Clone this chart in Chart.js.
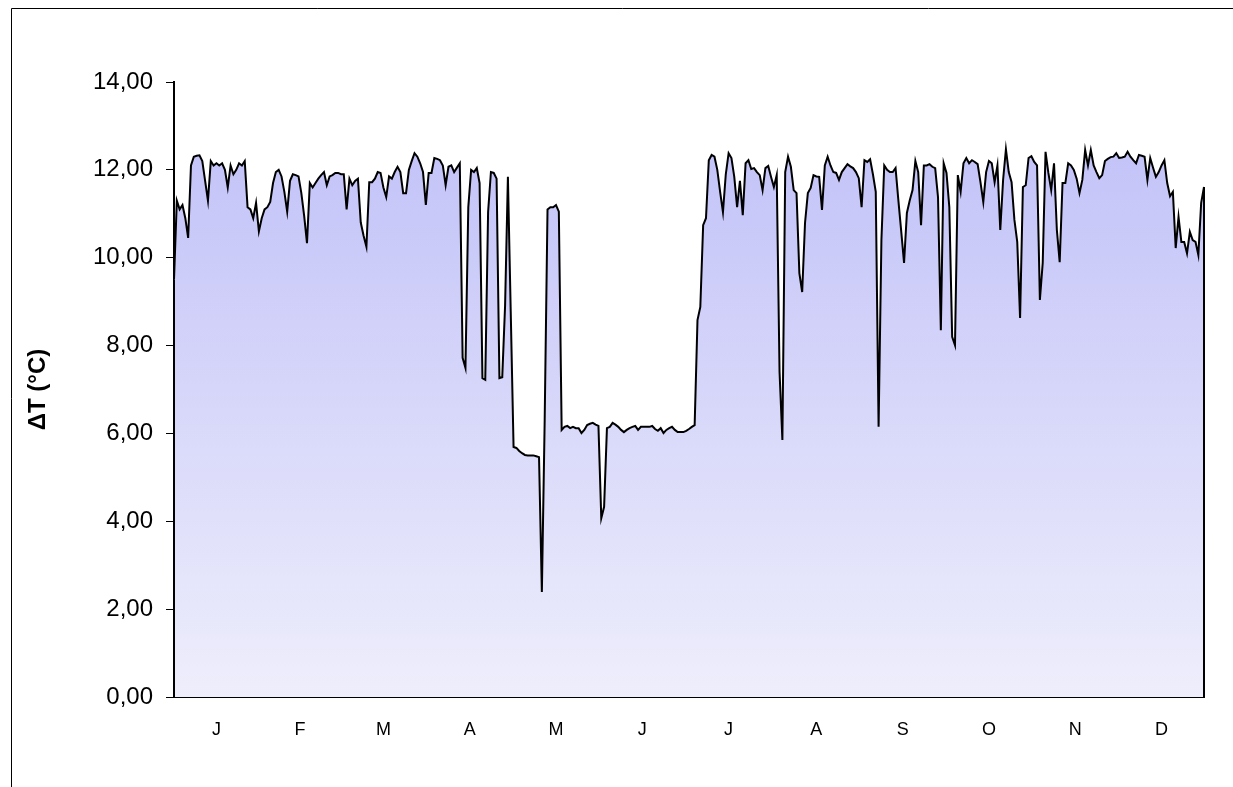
<!DOCTYPE html>
<html>
<head>
<meta charset="utf-8">
<script src="https://cdn.jsdelivr.net/npm/chart.js@4.4.1/dist/chart.umd.min.js"></script>
<style>
  html, body { margin: 0; padding: 0; background: #ffffff; overflow: hidden; }
  #wrap { width: 1233px; height: 787px; position: relative; }
</style>
</head>
<body>
<div id="wrap"><canvas id="c" width="1233" height="787"></canvas></div>
<script>
// Daily temperature difference ΔT (°C), one array per month
const jan = [9.5, 11.3, 11.1, 11.2, 10.9, 10.45, 12.1, 12.3, 12.32, 12.33, 12.2, 11.75, 11.3, 12.2, 12.1, 12.15,
             12.1, 12.15, 12.0, 11.6, 12.1, 11.9, 12.0, 12.15, 12.1, 12.2, 11.15, 11.1, 10.9, 11.25, 10.6];
const feb = [10.9, 11.1, 11.15, 11.27, 11.7, 11.95, 12.0, 11.85, 11.5, 11.05, 11.75, 11.9, 11.88, 11.85,
             11.47, 10.95, 10.33, 11.7, 11.6, 11.7, 11.8, 11.88, 11.95, 11.65, 11.85, 11.88, 11.93, 11.93];
const mar = [11.9, 11.9, 11.1, 11.8, 11.65, 11.75, 11.8, 10.8, 10.5, 10.25, 11.72, 11.72, 11.8, 11.95, 11.93,
             11.6, 11.38, 11.85, 11.8, 11.95, 12.07, 11.95, 11.47, 11.47, 12.0, 12.2, 12.38, 12.3, 12.15, 11.95, 11.2];
const apr = [11.93, 11.93, 12.27, 12.25, 12.22, 12.1, 11.65, 12.07, 12.1, 11.95, 12.05, 12.15, 7.72, 7.49, 11.15,
             12.0, 11.95, 12.04, 11.7, 7.26, 7.22, 11.04, 11.95, 11.93, 11.8, 7.26, 7.28, 8.9, 11.84, 8.77];
const may = [5.69, 5.67, 5.6, 5.55, 5.51, 5.5, 5.5, 5.5, 5.48, 5.46, 2.39, 6.3, 11.1, 11.15, 11.15, 11.2,
             11.05, 6.08, 6.15, 6.17, 6.12, 6.15, 6.12, 6.12, 6.01, 6.08, 6.19, 6.22, 6.24, 6.2, 6.17];
const jun = [4.07, 4.33, 6.12, 6.15, 6.24, 6.2, 6.15, 6.08, 6.03, 6.08, 6.12, 6.15, 6.17, 6.08, 6.15,
             6.15, 6.15, 6.15, 6.17, 6.1, 6.06, 6.12, 6.01, 6.08, 6.12, 6.15, 6.08, 6.03, 6.03, 6.03];
const jul = [6.06, 6.1, 6.15, 6.19, 8.58, 8.88, 10.74, 10.9, 12.22, 12.34, 12.3, 12.0, 11.5, 11.04, 11.9,
             12.38, 12.27, 11.84, 11.15, 11.75, 10.97, 12.15, 12.22, 12.02, 12.04, 11.95, 11.88, 11.54, 12.04, 12.09, 11.84];
const aug = [11.61, 11.88, 7.4, 5.85, 11.95, 12.3, 12.07, 11.54, 11.47, 9.65, 9.22, 10.79, 11.47, 11.59, 11.88,
             11.85, 11.84, 11.09, 12.1, 12.3, 12.1, 11.95, 11.93, 11.77, 11.95, 12.04, 12.13, 12.08, 12.04, 11.95, 11.81];
const sep = [11.15, 12.22, 12.18, 12.24, 11.9, 11.5, 6.15, 10.4, 12.1, 12.0, 11.95, 11.95, 12.04, 11.3, 10.6,
             9.88, 11.02, 11.3, 11.54, 12.2, 11.95, 10.74, 12.1, 12.1, 12.13, 12.07, 12.04, 11.38, 8.35, 12.15];
const oct = [11.93, 11.15, 8.2, 8.01, 11.88, 11.5, 12.15, 12.27, 12.15, 12.22, 12.18, 12.13, 11.72, 11.27, 11.95,
             12.2, 12.15, 11.72, 12.1, 10.63, 11.77, 12.47, 11.95, 11.72, 10.86, 10.36, 8.63, 11.61, 11.65, 12.27, 12.31];
const nov = [12.18, 12.1, 9.04, 9.88, 12.41, 11.93, 11.54, 12.15, 10.63, 9.9, 11.7, 11.7, 12.15, 12.1, 12.0,
             11.8, 11.47, 11.77, 12.45, 12.1, 12.45, 12.1, 11.95, 11.81, 11.88, 12.2, 12.25, 12.29, 12.3, 12.38];
const dec = [12.27, 12.28, 12.3, 12.41, 12.3, 12.22, 12.15, 12.34, 12.32, 12.3, 11.77, 12.27, 12.05, 11.84, 11.95,
             12.1, 12.22, 11.7, 11.4, 11.5, 10.22, 10.93, 10.36, 10.36, 10.1, 10.59, 10.4, 10.36, 10.06, 11.25, 11.61];

const monthLetters = ['J', 'F', 'M', 'A', 'M', 'J', 'J', 'A', 'S', 'O', 'N', 'D'];
const yTickValues = [0, 2, 4, 6, 8, 10, 12, 14];
const yTitle = 'ΔT (°C)';

const months = [jan, feb, mar, apr, may, jun, jul, aug, sep, oct, nov, dec];
const values = [].concat(...months);
const points = values.map((v, i) => ({ x: i, y: v }));

// Month labels sit in the middle of each month's run of days
const monthMid = [];
let dayStart = 0;
months.forEach(m => { monthMid.push(dayStart + (m.length - 1) / 2); dayStart += m.length; });

const FONT = 'Arial, "Liberation Sans", Helvetica, sans-serif';

// Outer chart border (left and top edges only are visible)
const frame = {
  id: 'frame',
  beforeDraw(chart) {
    const ctx = chart.ctx;
    ctx.save();
    ctx.strokeStyle = '#000';
    ctx.lineWidth = 1;
    ctx.beginPath();
    ctx.moveTo(11.5, chart.height + 2);
    ctx.lineTo(11.5, 8.5);
    ctx.lineTo(chart.width + 2, 8.5);
    ctx.stroke();
    ctx.restore();
  }
};

// Close the area outline with vertical edges down to the baseline
const areaEdges = {
  id: 'areaEdges',
  afterDatasetsDraw(chart) {
    const meta = chart.getDatasetMeta(0);
    const pts = meta.data;
    if (!pts.length) return;
    const y0 = chart.scales.y.getPixelForValue(0);
    const ctx = chart.ctx;
    ctx.save();
    ctx.strokeStyle = '#000';
    ctx.lineWidth = 2;
    ctx.beginPath();
    const first = pts[0], last = pts[pts.length - 1];
    ctx.moveTo(first.x, y0); ctx.lineTo(first.x, first.y);
    ctx.moveTo(last.x, last.y); ctx.lineTo(last.x, y0);
    ctx.stroke();
    ctx.restore();
  }
};

new Chart(document.getElementById('c'), {
  type: 'line',
  data: {
    datasets: [{
      data: points,
      borderColor: '#000',
      borderWidth: 2,
      pointRadius: 0,
      tension: 0,
      fill: 'origin',
      backgroundColor(context) {
        const { chart } = context;
        const area = chart.chartArea;
        if (!area) return 'rgba(200,200,248,1)';
        const g = chart.ctx.createLinearGradient(0, area.top, 0, area.bottom);
        g.addColorStop(0, 'rgb(190,190,248)');
        g.addColorStop(1, 'rgb(238,238,252)');
        return g;
      }
    }]
  },
  options: {
    responsive: false,
    animation: false,
    devicePixelRatio: 1,
    layout: { padding: { left: 0, top: 82, right: 29, bottom: 0 } },
    plugins: { legend: { display: false }, tooltip: { enabled: false } },
    scales: {
      x: {
        type: 'linear',
        min: 0,
        max: values.length - 1,
        afterBuildTicks(scale) { scale.ticks = monthMid.map(v => ({ value: v })); },
        afterFit(scale) { scale.height = 90; },
        ticks: {
          autoSkip: false,
          maxRotation: 0,
          padding: 22,
          color: '#000',
          font: { family: FONT, size: 18 },
          callback: (v, i) => monthLetters[i]
        },
        grid: { display: false, drawTicks: false },
        border: { display: true, color: '#000', width: 2 }
      },
      y: {
        min: 0,
        max: 14,
        afterBuildTicks(scale) { scale.ticks = yTickValues.map(v => ({ value: v })); },
        afterFit(scale) { scale.width = 174; },
        ticks: {
          padding: 13,
          color: '#000',
          font: { family: FONT, size: 24 },
          callback: v => v.toFixed(2).replace('.', ',')
        },
        grid: { display: true, drawOnChartArea: false, drawTicks: true, tickLength: 8, color: '#000', lineWidth: 1 },
        border: { display: true, color: '#000', width: 2 },
        title: {
          display: true,
          text: yTitle,
          color: '#000',
          font: { family: FONT, size: 24, weight: 'bold', lineHeight: 1.2 },
          padding: { top: 24, bottom: 0 }
        }
      }
    }
  },
  plugins: [frame, areaEdges]
});
</script>
</body>
</html>
